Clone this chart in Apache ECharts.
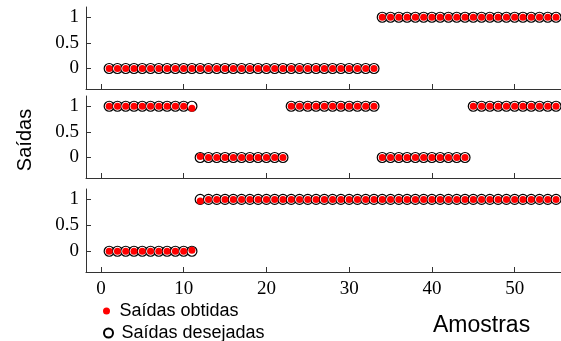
<!DOCTYPE html>
<html>
<head>
<meta charset="utf-8">
<script src="https://cdn.jsdelivr.net/npm/echarts@6/dist/echarts.min.js"></script>
<style>html,body{margin:0;padding:0;background:#fff}#c{width:561px;height:341px}</style>
</head>
<body>
<div id="c"></div>
<script>
const samples = [1,2,3,4,5,6,7,8,9,10,11,12,13,14,15,16,17,18,19,20,21,22,23,24,25,26,27,28,29,30,31,32,33,34,35,36,37,38,39,40,41,42,43,44,45,46,47,48,49,50,51,52,53,54,55];
const desired1 = [0,0,0,0,0,0,0,0,0,0, 0,0,0,0,0,0,0,0,0,0, 0,0,0,0,0,0,0,0,0,0, 0,0,0, 1,1,1,1,1,1,1, 1,1,1,1,1,1,1,1,1,1, 1,1,1,1,1];
const obtained1 = [0,0,0,0,0,0,0,0,0,0, 0,0,0,0,0,0,0,0,0,0, 0,0,0,0,0,0,0,0,0,0, 0,0,0, 1,1,1,1,1,1,1, 1,1,1,1,1,1,1,1,1,1, 1,1,1,1,1];
const desired2 = [1,1,1,1,1,1,1,1,1,1,1, 0,0,0,0,0,0,0,0,0,0,0, 1,1,1,1,1,1,1,1,1,1,1, 0,0,0,0,0,0,0,0,0,0,0, 1,1,1,1,1,1,1,1,1,1,1];
const obtained2 = [1,1,1,1,1,1,1,1,1,1,0.96, 0.02,0,0,0,0,0,0,0,0,0,0, 1,1,1,1,1,1,1,1,1,1,1, 0,0,0,0,0,0,0,0,0,0,0, 1,1,1,1,1,1,1,1,1,1,1];
const desired3 = [0,0,0,0,0,0,0,0,0,0,0, 1,1,1,1,1,1,1,1,1,1,1,1,1,1,1,1,1,1,1,1,1,1,1,1,1,1,1,1,1,1,1,1,1,1,1,1,1,1,1,1,1,1,1,1];
const obtained3 = [0,0,0,0,0,0,0,0,0,0,0.02, 0.97,1,1,1,1,1,1,1,1,1,1,1,1,1,1,1,1,1,1,1,1,1,1,1,1,1,1,1,1,1,1,1,1,1,1,1,1,1,1,1,1,1,1,1];
const xTicks = [0,10,20,30,40,50];
const yTicks = [0,0.5,1];
const nameObt = 'Saídas obtidas';
const nameDes = 'Saídas desejadas';

const chart = echarts.init(document.getElementById('c'));
const grids = [
  {left:86, width:475, top:7, height:82},
  {left:86, width:475, top:96, height:82},
  {left:86, width:475, top:189, height:83}
];
const axisLineStyle = {lineStyle:{color:'#333', width:1}};
const xAxes = grids.map((g,i)=>({
  type:'value', gridIndex:i, min:-1.8, max:55.6,
  axisLine:{show:true, onZero:false, ...axisLineStyle},
  axisTick:{show:true, inside:true, length:5, customValues:xTicks, lineStyle:{color:'#333'}},
  axisLabel:{show:i===2, customValues:xTicks, fontFamily:'Liberation Serif', fontSize:19, color:'#000', margin:8},
  splitLine:{show:false}
}));
const yAxes = grids.map((g,i)=>({
  type:'value', gridIndex:i, min:-0.4, max:1.2,
  axisLine:{show:true, onZero:false, ...axisLineStyle},
  axisTick:{show:true, inside:true, length:5, customValues:yTicks, lineStyle:{color:'#333'}},
  axisLabel:{show:true, customValues:yTicks, fontFamily:'Liberation Serif', fontSize:19, color:'#000', margin:7,
    formatter:v=>String(v)},
  splitLine:{show:false}
}));
const pairs = [[desired1,obtained1],[desired2,obtained2],[desired3,obtained3]];
const series = [];
pairs.forEach((p,i)=>{
  series.push({
    type:'scatter', name:nameDes, xAxisIndex:i, yAxisIndex:i,
    data:samples.map((s,k)=>[s,p[0][k]]),
    symbol:'circle', symbolSize:10, z:2, silent:true,
    itemStyle:{color:'#fff', borderColor:'#000', borderWidth:1.2, opacity:1}
  });
  series.push({
    type:'scatter', name:nameObt, xAxisIndex:i, yAxisIndex:i,
    data:samples.map((s,k)=>[s,p[1][k]]),
    symbol:'circle', symbolSize:7, z:3, silent:true,
    itemStyle:{color:'#ff0000', opacity:1}
  });
});
const legendText = {fontFamily:'Liberation Sans', fontSize:18, color:'#000'};
chart.setOption({
  animation:false,
  grid:grids,
  xAxis:xAxes,
  yAxis:yAxes,
  series:series,
  legend:[
    {orient:'vertical', left:103, top:302, padding:0, itemWidth:16, itemHeight:7, data:[{name:nameObt}], textStyle:legendText, selectedMode:false},
    {orient:'vertical', left:103, top:324, padding:0, itemWidth:16, itemHeight:9, data:[{name:nameDes}], textStyle:legendText, selectedMode:false}
  ],
  graphic:[
    {type:'text', left:433, top:314, style:{text:'Amostras', font:'23px "Liberation Sans"', fill:'#000'}},
    {type:'text', x:25, y:140, rotation:Math.PI/2, style:{text:'Saídas', font:'20px "Liberation Sans"', fill:'#000', align:'center', verticalAlign:'middle'}}
  ]
});
</script>
</body>
</html>
